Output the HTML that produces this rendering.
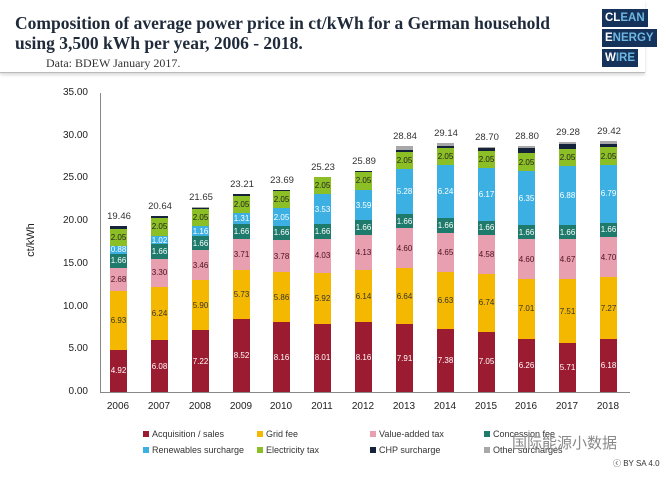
<!DOCTYPE html>
<html><head><meta charset="utf-8"><style>
body{margin:0;width:666px;height:485px;background:#fff;position:relative;overflow:hidden;font-family:"Liberation Sans",sans-serif}
.hdr{position:absolute;left:0;top:0;width:645px;height:72px;border-bottom:1px solid #bbb;box-shadow:0 2px 3px rgba(0,0,0,.15)}
.t{position:absolute;left:15px;top:13px;font-family:"Liberation Serif",serif;font-weight:bold;font-size:17.5px;line-height:20px;color:#1f2a3a}
.s{position:absolute;left:46px;top:56px;font-family:"Liberation Serif",serif;font-size:12px;color:#333}
.logo{position:absolute;left:602px;background:#14325a;color:#fff;font-weight:bold;font-size:11.5px;line-height:18px;padding:0 3px;height:18px}
.logo span{color:#6fb6e0}
.col{position:absolute;bottom:93px;width:17px;display:flex;flex-direction:column-reverse}
.col div{font-size:8px;text-align:center;display:flex;align-items:center;justify-content:center;overflow:visible;white-space:nowrap}
.col div.tot{width:40px;margin-left:-11px;height:15px;font-size:9.5px;color:#333;align-items:flex-start}
.a{background:#9b1b30;color:#fff}.g{background:#f5b800;color:#333}.v{background:#e8a0b0;color:#4a1020}.c{background:#1e7a6a;color:#fff}.r{background:#3cb0e2;color:#fff}.e{background:#8cbf26;color:#222}.h{background:#14233a}.o{background:#a8a8a8}
.yl{position:absolute;left:50px;width:38px;text-align:right;font-size:10px;color:#222}
.xl{position:absolute;top:401px;width:40px;text-align:center;font-size:10px;color:#222}
.lg{position:absolute;font-size:9px;color:#333}
.lg i{display:inline-block;width:6px;height:6px;margin-right:3px}
</style></head><body>
<div class="hdr"></div>
<div class="t">Composition of average power price in ct/kWh for a German household<br>using 3,500 kWh per year, 2006 - 2018.</div>
<div class="s">Data: BDEW January 2017.</div>
<div class="logo" style="top:9px">CL<span>EAN</span></div>
<div class="logo" style="top:29px">E<span>NERGY</span></div>
<div class="logo" style="top:49px">W<span>IRE</span></div>

<div style="position:absolute;left:100px;top:93px;width:1px;height:299px;background:#888"></div>
<div style="position:absolute;left:100px;top:392px;width:530px;height:1px;background:#888"></div>
<div class="yl" style="top:87px">35.00</div>
<div class="yl" style="top:130px">30.00</div>
<div class="yl" style="top:172px">25.00</div>
<div class="yl" style="top:215px">20.00</div>
<div class="yl" style="top:258px">15.00</div>
<div class="yl" style="top:301px">10.00</div>
<div class="yl" style="top:343px">5.00</div>
<div class="yl" style="top:386px">0.00</div>
<div style="position:absolute;left:14px;top:234px;transform:rotate(-90deg);font-size:11px;color:#222">ct/kWh</div>

<div class="xl" style="left:98px">2006</div><div class="xl" style="left:139px">2007</div><div class="xl" style="left:180px">2008</div><div class="xl" style="left:221px">2009</div><div class="xl" style="left:261px">2010</div><div class="xl" style="left:302px">2011</div><div class="xl" style="left:343px">2012</div><div class="xl" style="left:384px">2013</div><div class="xl" style="left:425px">2014</div><div class="xl" style="left:466px">2015</div><div class="xl" style="left:506px">2016</div><div class="xl" style="left:547px">2017</div><div class="xl" style="left:588px">2018</div>

<div class="col" style="left:110px"><div class="a" style="height:calc(4.92*8.543px)">4.92</div><div class="g" style="height:calc(6.93*8.543px)">6.93</div><div class="v" style="height:calc(2.68*8.543px)">2.68</div><div class="c" style="height:calc(1.66*8.543px)">1.66</div><div class="r" style="height:calc(0.88*8.543px)">0.88</div><div class="e" style="height:calc(2.05*8.543px)">2.05</div><div class="h" style="height:calc(0.3*8.543px)"></div><div class="o" style="height:calc(0.04*8.543px)"></div><div class="tot">19.46</div></div>
<div class="col" style="left:151px"><div class="a" style="height:calc(6.08*8.543px)">6.08</div><div class="g" style="height:calc(6.24*8.543px)">6.24</div><div class="v" style="height:calc(3.30*8.543px)">3.30</div><div class="c" style="height:calc(1.66*8.543px)">1.66</div><div class="r" style="height:calc(1.02*8.543px)">1.02</div><div class="e" style="height:calc(2.05*8.543px)">2.05</div><div class="h" style="height:calc(0.25*8.543px)"></div><div class="o" style="height:calc(0.04*8.543px)"></div><div class="tot">20.64</div></div>
<div class="col" style="left:192px"><div class="a" style="height:calc(7.22*8.543px)">7.22</div><div class="g" style="height:calc(5.90*8.543px)">5.90</div><div class="v" style="height:calc(3.46*8.543px)">3.46</div><div class="c" style="height:calc(1.66*8.543px)">1.66</div><div class="r" style="height:calc(1.16*8.543px)">1.16</div><div class="e" style="height:calc(2.05*8.543px)">2.05</div><div class="h" style="height:calc(0.15*8.543px)"></div><div class="o" style="height:calc(0.05*8.543px)"></div><div class="tot">21.65</div></div>
<div class="col" style="left:233px"><div class="a" style="height:calc(8.52*8.543px)">8.52</div><div class="g" style="height:calc(5.73*8.543px)">5.73</div><div class="v" style="height:calc(3.71*8.543px)">3.71</div><div class="c" style="height:calc(1.66*8.543px)">1.66</div><div class="r" style="height:calc(1.31*8.543px)">1.31</div><div class="e" style="height:calc(2.05*8.543px)">2.05</div><div class="h" style="height:calc(0.2*8.543px)"></div><div class="o" style="height:calc(0.03*8.543px)"></div><div class="tot">23.21</div></div>
<div class="col" style="left:273px"><div class="a" style="height:calc(8.16*8.543px)">8.16</div><div class="g" style="height:calc(5.86*8.543px)">5.86</div><div class="v" style="height:calc(3.78*8.543px)">3.78</div><div class="c" style="height:calc(1.66*8.543px)">1.66</div><div class="r" style="height:calc(2.05*8.543px)">2.05</div><div class="e" style="height:calc(2.05*8.543px)">2.05</div><div class="h" style="height:calc(0.13*8.543px)"></div><div class="tot">23.69</div></div>
<div class="col" style="left:314px"><div class="a" style="height:calc(8.01*8.543px)">8.01</div><div class="g" style="height:calc(5.92*8.543px)">5.92</div><div class="v" style="height:calc(4.03*8.543px)">4.03</div><div class="c" style="height:calc(1.66*8.543px)">1.66</div><div class="r" style="height:calc(3.53*8.543px)">3.53</div><div class="e" style="height:calc(2.05*8.543px)">2.05</div><div class="h" style="height:calc(0.03*8.543px)"></div><div class="tot">25.23</div></div>
<div class="col" style="left:355px"><div class="a" style="height:calc(8.16*8.543px)">8.16</div><div class="g" style="height:calc(6.14*8.543px)">6.14</div><div class="v" style="height:calc(4.13*8.543px)">4.13</div><div class="c" style="height:calc(1.66*8.543px)">1.66</div><div class="r" style="height:calc(3.59*8.543px)">3.59</div><div class="e" style="height:calc(2.05*8.543px)">2.05</div><div class="h" style="height:calc(0.16*8.543px)"></div><div class="tot">25.89</div></div>
<div class="col" style="left:396px"><div class="a" style="height:calc(7.91*8.543px)">7.91</div><div class="g" style="height:calc(6.64*8.543px)">6.64</div><div class="v" style="height:calc(4.60*8.543px)">4.60</div><div class="c" style="height:calc(1.66*8.543px)">1.66</div><div class="r" style="height:calc(5.28*8.543px)">5.28</div><div class="e" style="height:calc(2.05*8.543px)">2.05</div><div class="h" style="height:calc(0.2*8.543px)"></div><div class="o" style="height:calc(0.5*8.543px)"></div><div class="tot">28.84</div></div>
<div class="col" style="left:437px"><div class="a" style="height:calc(7.38*8.543px)">7.38</div><div class="g" style="height:calc(6.63*8.543px)">6.63</div><div class="v" style="height:calc(4.65*8.543px)">4.65</div><div class="c" style="height:calc(1.66*8.543px)">1.66</div><div class="r" style="height:calc(6.24*8.543px)">6.24</div><div class="e" style="height:calc(2.05*8.543px)">2.05</div><div class="h" style="height:calc(0.18*8.543px)"></div><div class="o" style="height:calc(0.35*8.543px)"></div><div class="tot">29.14</div></div>
<div class="col" style="left:478px"><div class="a" style="height:calc(7.05*8.543px)">7.05</div><div class="g" style="height:calc(6.74*8.543px)">6.74</div><div class="v" style="height:calc(4.58*8.543px)">4.58</div><div class="c" style="height:calc(1.66*8.543px)">1.66</div><div class="r" style="height:calc(6.17*8.543px)">6.17</div><div class="e" style="height:calc(2.05*8.543px)">2.05</div><div class="h" style="height:calc(0.3*8.543px)"></div><div class="o" style="height:calc(0.15*8.543px)"></div><div class="tot">28.70</div></div>
<div class="col" style="left:518px"><div class="a" style="height:calc(6.26*8.543px)">6.26</div><div class="g" style="height:calc(7.01*8.543px)">7.01</div><div class="v" style="height:calc(4.60*8.543px)">4.60</div><div class="c" style="height:calc(1.66*8.543px)">1.66</div><div class="r" style="height:calc(6.35*8.543px)">6.35</div><div class="e" style="height:calc(2.05*8.543px)">2.05</div><div class="h" style="height:calc(0.6*8.543px)"></div><div class="o" style="height:calc(0.27*8.543px)"></div><div class="tot">28.80</div></div>
<div class="col" style="left:559px"><div class="a" style="height:calc(5.71*8.543px)">5.71</div><div class="g" style="height:calc(7.51*8.543px)">7.51</div><div class="v" style="height:calc(4.67*8.543px)">4.67</div><div class="c" style="height:calc(1.66*8.543px)">1.66</div><div class="r" style="height:calc(6.88*8.543px)">6.88</div><div class="e" style="height:calc(2.05*8.543px)">2.05</div><div class="h" style="height:calc(0.5*8.543px)"></div><div class="o" style="height:calc(0.3*8.543px)"></div><div class="tot">29.28</div></div>
<div class="col" style="left:600px"><div class="a" style="height:calc(6.18*8.543px)">6.18</div><div class="g" style="height:calc(7.27*8.543px)">7.27</div><div class="v" style="height:calc(4.70*8.543px)">4.70</div><div class="c" style="height:calc(1.66*8.543px)">1.66</div><div class="r" style="height:calc(6.79*8.543px)">6.79</div><div class="e" style="height:calc(2.05*8.543px)">2.05</div><div class="h" style="height:calc(0.4*8.543px)"></div><div class="o" style="height:calc(0.37*8.543px)"></div><div class="tot">29.42</div></div>

<div class="lg" style="left:143px;top:429px"><i class="a"></i>Acquisition / sales</div>
<div class="lg" style="left:257px;top:429px"><i class="g"></i>Grid fee</div>
<div class="lg" style="left:370px;top:429px"><i class="v"></i>Value-added tax</div>
<div class="lg" style="left:484px;top:429px"><i class="c"></i>Concession fee</div>
<div class="lg" style="left:143px;top:445px"><i class="r"></i>Renewables surcharge</div>
<div class="lg" style="left:257px;top:445px"><i class="e"></i>Electricity tax</div>
<div class="lg" style="left:370px;top:445px"><i class="h"></i>CHP surcharge</div>
<div class="lg" style="left:484px;top:445px"><i class="o"></i>Other surcharges</div>
<div style="position:absolute;left:512px;top:432px;font-family:'Noto Sans CJK SC',sans-serif;font-size:15px;color:#888">国际能源小数据</div>
<div style="position:absolute;left:613px;top:458px;font-size:8px;color:#333">ⓒ BY SA 4.0</div>
</body></html>
